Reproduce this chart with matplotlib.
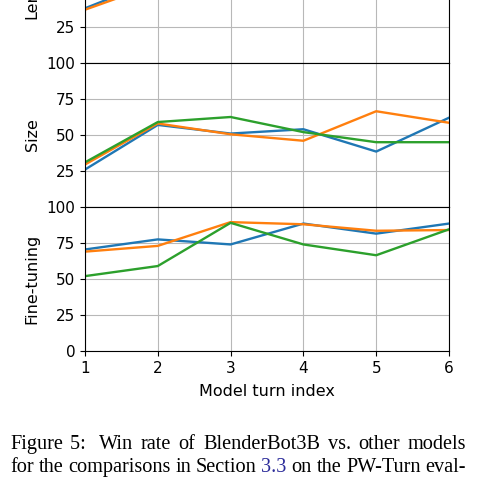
import matplotlib
matplotlib.use("Agg")
import matplotlib.pyplot as plt

# model turn index
turns = [1, 2, 3, 4, 5, 6]

# win rates per panel (blue, orange, green)
length_blue = [38, 58, 62, 55, 60, 57]
length_orange = [37, 55, 60, 65, 58, 62]
length_green = [60, 70, 65, 62, 68, 66]

size_blue = [26, 57, 51, 54, 38.5, 62]
size_orange = [29.5, 58, 50.5, 46, 66.5, 58.5]
size_green = [31, 59, 62.5, 52, 45, 45]

ft_blue = [70.5, 77.5, 74, 88.5, 81.5, 88.5]
ft_orange = [69, 73, 89.5, 88, 83.5, 84]
ft_green = [52, 59, 89, 74, 66.5, 84.5]

panel_names = ["Length", "Size", "Fine-tuning"]
panel_data = [
    (length_blue, length_orange, length_green),
    (size_blue, size_orange, size_green),
    (ft_blue, ft_orange, ft_green),
]

caption_line1 = ["Figure", "5: ", "Win", "rate", "of", "BlenderBot3B", "vs.", "other", "models"]
caption_line2 = ["for", "the", "comparisons", "in", "Section", "3.3", "on", "the", "PW-Turn", "eval-"]

fig = plt.figure(figsize=(4.8, 4.8), dpi=100)
left, width, h = 85 / 480, 364 / 480, 144 / 480
bottoms = [0.86875, 0.56875, 0.26875]
colors = ["tab:blue", "tab:orange", "tab:green"]

for i, (name, series) in enumerate(zip(panel_names, panel_data)):
    ax = fig.add_axes([left, bottoms[i], width, h])
    for vals, c in zip(series, colors):
        ax.plot(turns, vals, color=c, lw=1.7)
    ax.set_xlim(1, 6)
    ax.set_ylim(0, 100)
    ax.set_xticks(turns)
    if i < 2:
        ax.set_yticks([25, 50, 75, 100])
        ax.tick_params(axis="x", length=0, labelbottom=False)
    else:
        ax.set_yticks([0, 25, 50, 75, 100])
        ax.set_xlabel("Model turn index", fontsize=11.5, labelpad=6)
    ax.grid(True, color="#b8b8b8", lw=0.8)
    ax.tick_params(labelsize=11)
    ax.set_ylabel(name, fontsize=11.5)
    ax.yaxis.set_label_coords(-0.125, 0.5)

# caption in serif, justified lines
fig.canvas.draw()
renderer = fig.canvas.get_renderer()


def justified(words, baseline_px, x0=10, x1=466):
    texts = []
    for w in words:
        c = "#2b2b9a" if w == "3.3" else "black"
        t = fig.text(0, 1 - baseline_px / 480, w, fontsize=14.6,
                     family="Liberation Serif", va="baseline", ha="left", color=c)
        texts.append(t)
    widths = [t.get_window_extent(renderer).width for t in texts]
    gap = (x1 - x0 - sum(widths)) / (len(texts) - 1)
    x = x0
    for t, wd in zip(texts, widths):
        t.set_x(x / 480)
        x += wd + gap


justified(caption_line1, 449)
justified(caption_line2, 472)

fig.savefig("out.png", dpi=100)
